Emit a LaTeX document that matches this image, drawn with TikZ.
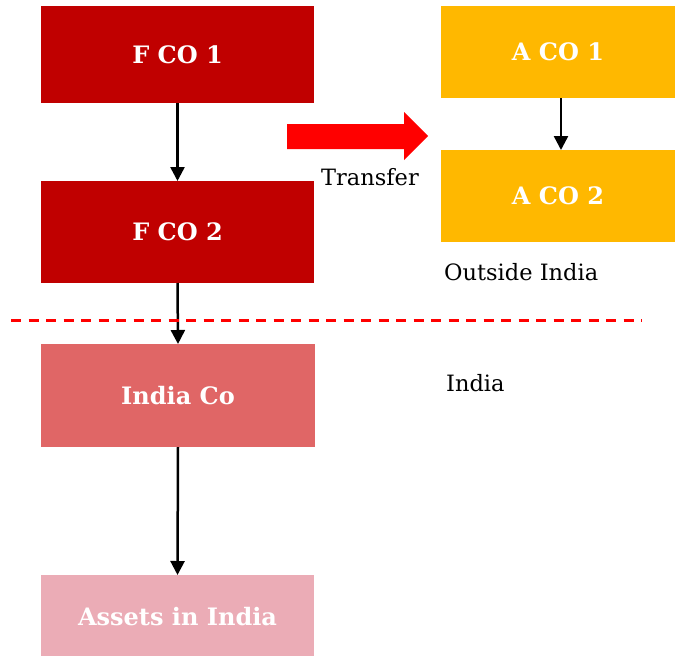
\documentclass[tikz,border=0pt]{standalone}
\usepackage{fontspec}
\setmainfont{DejaVu Serif}
\usetikzlibrary{arrows.meta}
\definecolor{fred}{HTML}{C00000}
\definecolor{agold}{HTML}{FFB800}
\definecolor{indrose}{HTML}{E06666}
\definecolor{assetpink}{HTML}{EBACB6}
\definecolor{trred}{HTML}{FF0000}
\definecolor{divred}{HTML}{FF0000}
\tikzset{
  box/.style={rectangle, inner sep=0pt, outer sep=0pt, text=white,
    font=\bfseries\fontsize{24}{28}\selectfont},
  label/.style={inner sep=0pt, font=\fontsize{22.5}{26}\selectfont, anchor=west},
  flow/.style={line width=2.5pt, -{Triangle[length=14pt, width=14pt]}},
}
\begin{document}
\begin{tikzpicture}[x=1pt, y=-1pt]
\useasboundingbox (0,0) rectangle (675,656);
% left column
\node[box, fill=fred, minimum width=273pt, minimum height=97pt] (f1) at (177.5,54.5) {F CO 1};
\node[box, fill=fred, minimum width=273pt, minimum height=102pt] (f2) at (177.5,232) {F CO 2};
\node[box, fill=indrose, minimum width=274pt, minimum height=103pt] (ind) at (178,395.5) {India Co};
\node[box, fill=assetpink, minimum width=273pt, minimum height=100pt] (ast) at (177.5,625) {};
\node[box, anchor=center] (astx) at (177.5,617) {Assets in India};
% right column
\node[box, fill=agold, minimum width=234pt, minimum height=92pt] (a1) at (558,52) {A CO 1};
\node[box, fill=agold, minimum width=234pt, minimum height=92pt] (a2) at (558,196) {A CO 2};
% flow arrows
\draw[flow] (f1.south) -- (f2.north);
\draw[flow] (f2.south) -- (ind.north);
\draw[flow] (ind.south) -- (ast.north);
\draw[flow] (a1.south -| 561,0) -- (a2.north -| 561,0);
% transfer block arrow
\fill[trred] (287,124) -- (404,124) -- (404,112) -- (428,136) -- (404,160) -- (404,149) -- (287,149) -- cycle;
\node[label] (tr) at (321,177) {Transfer};
% border between jurisdictions
\draw[divred, line width=3pt, dash pattern=on 10pt off 7.5pt] (11,320) -- (642,320);
\node[label] (out) at (444,272) {Outside India};
\node[label] (in) at (446,383) {India};
\end{tikzpicture}
\end{document}
